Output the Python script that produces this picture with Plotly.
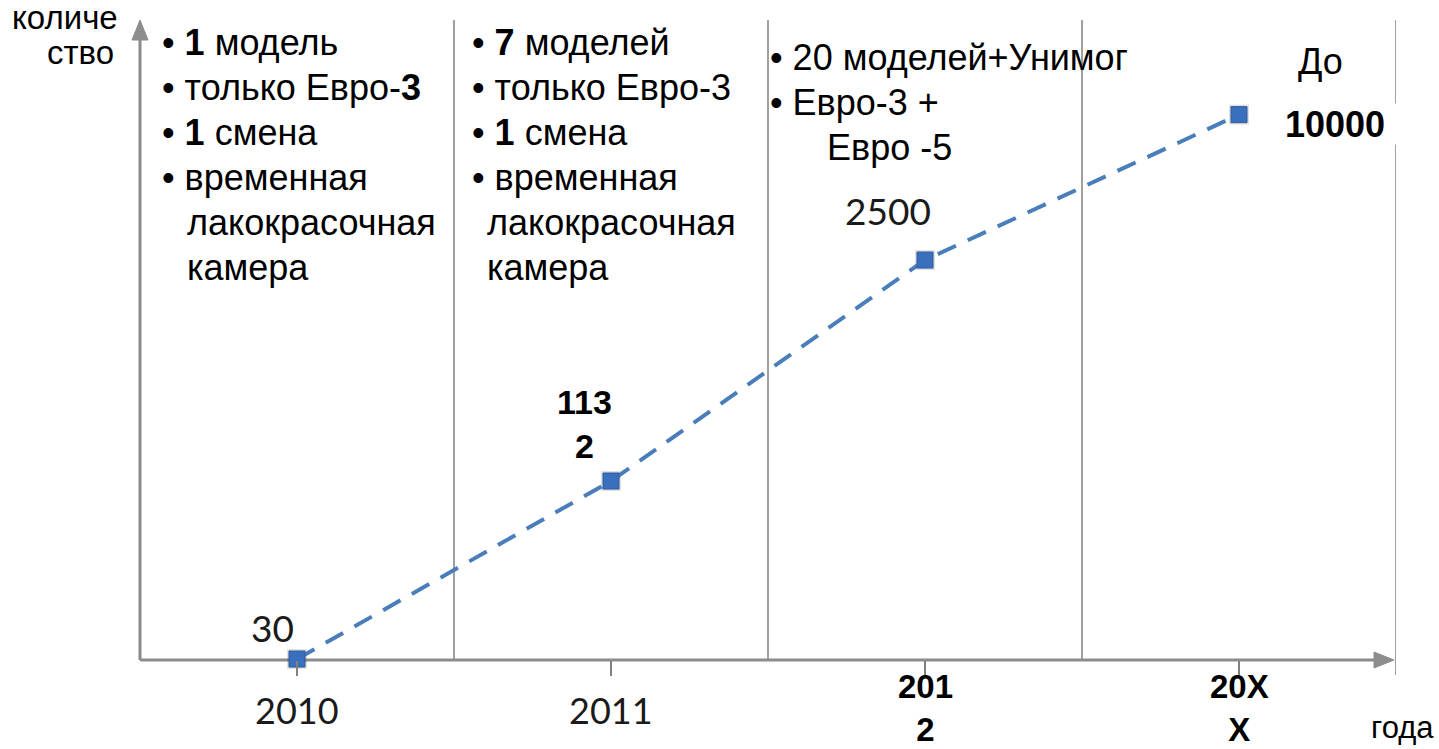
import plotly.graph_objects as go

# ---------------- data ----------------
categories = ["2010", "2011", "2012", "20XX"]
tick_labels = ["2010", "2011", "201\n2", "20X\nX"]
# plotted heights (the 20XX point is drawn at ~3400 on the chart's scale)
plot_values = [30, 1132, 2500, 3400]
point_labels = ["30", "113\n2", "2500", "10000"]
last_prefix = "До"

col1_lines = ["• <b>1</b> модель", "• только Евро-<b>3</b>", "• <b>1</b> смена",
              "• временная", "лакокрасочная", "камера"]
col2_lines = ["• <b>7</b> моделей", "• только Евро-3", "• <b>1</b> смена",
              "• временная", "лакокрасочная", "камера"]
col3_lines = ["• 20 моделей+Унимог", "• Евро-3 +", "Евро -5"]

y_title = ["количе", "ство"]
x_title = "года"

# ---------------- layout helpers ----------------
W, H = 1439, 749
ML, MR, MT, MB = 140, 43, 20, 89
PW, PH = W - ML - MR, H - MT - MB
def px_x(p):
    return (p - ML) / PW
def px_y(p):
    return (H - MB - p) / PH

ARIAL = "Liberation Sans, Arial, sans-serif"
CALIBRI = "Lato, Carlito, Calibri, sans-serif"
AXIS_COL = "#8c8c8c"
SEP_COL = "#808080"
LINE_COL = "#4a7ebb"
MARK_COL = "#3a6fbe"

fig = go.Figure()
# soft marker shadow
fig.add_trace(go.Scatter(
    x=categories, y=plot_values, mode="markers",
    marker=dict(symbol="square", size=20, color="rgba(0,0,0,0.12)", line=dict(width=0)),
    cliponaxis=False, hoverinfo="skip", showlegend=False,
))
fig.add_trace(go.Scatter(
    x=categories, y=plot_values, mode="lines+markers",
    line=dict(color=LINE_COL, width=4, dash="20px,13px"),
    marker=dict(symbol="square", size=16, color=MARK_COL,
                line=dict(color="#2d5a9a", width=1)),
    cliponaxis=False, hoverinfo="skip", showlegend=False,
))

shapes = []
n = len(categories)
# column separators
for i in range(n - 1):
    shapes.append(dict(type="line", xref="x", yref="paper", x0=i + 0.5, x1=i + 0.5,
                       y0=0, y1=1, line=dict(color=SEP_COL, width=1.5), layer="below"))
# right border line
shapes.append(dict(type="line", xref="x", yref="paper", x0=n - 0.5, x1=n - 0.5,
                   y0=px_y(675), y1=1, line=dict(color=SEP_COL, width=1.5), layer="below"))
# axes with arrows
shapes.append(dict(type="line", xref="paper", yref="paper", x0=0, x1=0, y0=0, y1=px_y(36),
                   line=dict(color=AXIS_COL, width=3), layer="below"))
shapes.append(dict(type="path", xref="paper", yref="paper",
                   path=f"M {px_x(ML-8)},{px_y(40)} L {px_x(ML)},{px_y(20)} L {px_x(ML+8)},{px_y(40)} Z",
                   fillcolor=AXIS_COL, line=dict(color=AXIS_COL, width=1), layer="below"))
shapes.append(dict(type="line", xref="paper", yref="paper", x0=0, x1=px_x(1378), y0=0, y1=0,
                   line=dict(color=AXIS_COL, width=3), layer="below"))
shapes.append(dict(type="path", xref="paper", yref="paper",
                   path=f"M {px_x(1374)},{px_y(652)} L {px_x(1394)},{px_y(660)} L {px_x(1374)},{px_y(668)} Z",
                   fillcolor=AXIS_COL, line=dict(color=AXIS_COL, width=1), layer="below"))

ann = []
# column texts
cols = [col1_lines, col2_lines, col3_lines]
col_left = [160, 470, 768]
col_top = [42, 42, 57]
col_indent = [25, 15, 57]
STEP = 45
for lines, left, top, ind in zip(cols, col_left, col_top, col_indent):
    for k, t in enumerate(lines):
        xs = 0 if t.startswith("•") else ind
        ann.append(dict(text=t, xref="paper", yref="paper", x=px_x(left + xs), y=px_y(top + k * STEP),
                        xanchor="left", yanchor="middle", showarrow=False,
                        font=dict(family=ARIAL, size=36, color="black")))

# point labels (x given as category index)
offsets = [(-25, 32), (-27, 57), (-37, 50), (96, -9)]
for i, (lab, (dx, dy)) in enumerate(zip(point_labels, offsets)):
    last = i == n - 1
    bold = "\n" in lab or last
    txt = lab.replace("\n", "<br>")
    if bold:
        txt = f"<b>{txt}</b>"
    d = dict(text=txt, xref="x", yref="y", x=i, y=plot_values[i],
             xshift=dx, yshift=dy, showarrow=False, xanchor="center", yanchor="middle",
             font=dict(family=ARIAL if bold else CALIBRI, size=34 if bold else 37,
                       color="black" if bold else "#1a1a1a"))
    if last:
        d.update(bgcolor="white", width=126, height=38, font=dict(family=ARIAL, size=36, color="black"))
    ann.append(d)
ann.append(dict(text=last_prefix, xref="x", yref="y", x=n - 1, y=plot_values[-1],
                xshift=81, yshift=53, showarrow=False, xanchor="center", yanchor="middle",
                font=dict(family=ARIAL, size=36, color="black")))

# category labels
for i, lab in enumerate(tick_labels):
    if "\n" in lab:
        ann.append(dict(text="<b>" + lab.replace("\n", "<br>") + "</b>", xref="x", yref="paper",
                        x=i, y=px_y(708), showarrow=False, xanchor="center", yanchor="middle",
                        borderpad=0, font=dict(family=ARIAL, size=33, color="black")))
    else:
        ann.append(dict(text=lab, xref="x", yref="paper", x=i, y=px_y(710), showarrow=False,
                        xanchor="center", yanchor="middle",
                        font=dict(family=CALIBRI, size=36, color="#1a1a1a")))

# axis titles
for t, cx, cy in zip(y_title, [65, 80], [17, 52]):
    ann.append(dict(text=t, xref="paper", yref="paper", x=px_x(cx), y=px_y(cy),
                    showarrow=False, xanchor="center", yanchor="middle",
                    font=dict(family=ARIAL, size=33, color="black")))
ann.append(dict(text=x_title, xref="paper", yref="paper", x=px_x(1436), y=px_y(727),
                showarrow=False, xanchor="right", yanchor="middle",
                font=dict(family=ARIAL, size=31, color="black")))

fig.update_layout(
    width=W, height=H, margin=dict(l=ML, r=MR, t=MT, b=MB, pad=0),
    paper_bgcolor="white", plot_bgcolor="white",
    shapes=shapes, annotations=ann,
    xaxis=dict(type="category", categoryarray=categories, range=[-0.5, n - 0.5],
               showgrid=False, zeroline=False, showline=False, showticklabels=False,
               ticks="outside", ticklen=15, tickwidth=1.5, tickcolor=SEP_COL),
    yaxis=dict(range=[24, 3986], visible=False, showgrid=False, zeroline=False),
)
fig.write_html("out.html", config={"displayModeBar": False},
               post_script="document.body.style.margin='0px';")
